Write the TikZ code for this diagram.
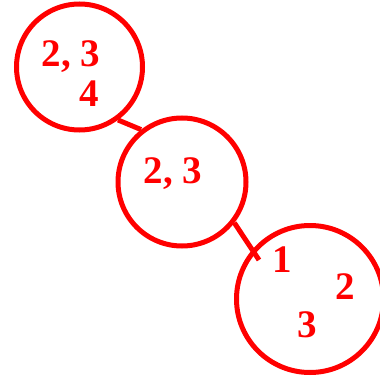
\documentclass[tikz,border=0pt]{standalone}
\usepackage{fontspec}
\setmainfont{Liberation Serif}
\begin{document}
\begin{tikzpicture}[x=1pt,y=-1pt,
  ring/.style={circle, draw=red, line width=5pt, inner sep=0pt},
  lbl/.style={text=red, font=\fontsize{39}{42}\selectfont\bfseries, inner sep=0pt, anchor=base},
  link/.style={draw=red, line width=5pt}]
\useasboundingbox (0,0) rectangle (380,377);
\node[ring, minimum size=126pt] (c1) at (79.5,67) {};
\node[ring, minimum size=128pt] (c2) at (182,182) {};
\node[ring, minimum size=147pt] (c3) at (310,299) {};
\coordinate (e2) at (259,260);
\draw[link] (c1.-54) -- (c2.128);
\draw[link] (c2.-38) -- (e2);
\node[lbl] (t1) at (71,67) {2, 3};
\node[lbl] (t2) at (89.5,107) {4};
\node[lbl] (t3) at (173,183) {2, 3};
\node[lbl] (t4) at (282,272) {1};
\node[lbl] (t5) at (345.5,299) {2};
\node[lbl] (t6) at (307.5,337) {3};
\end{tikzpicture}
\end{document}
